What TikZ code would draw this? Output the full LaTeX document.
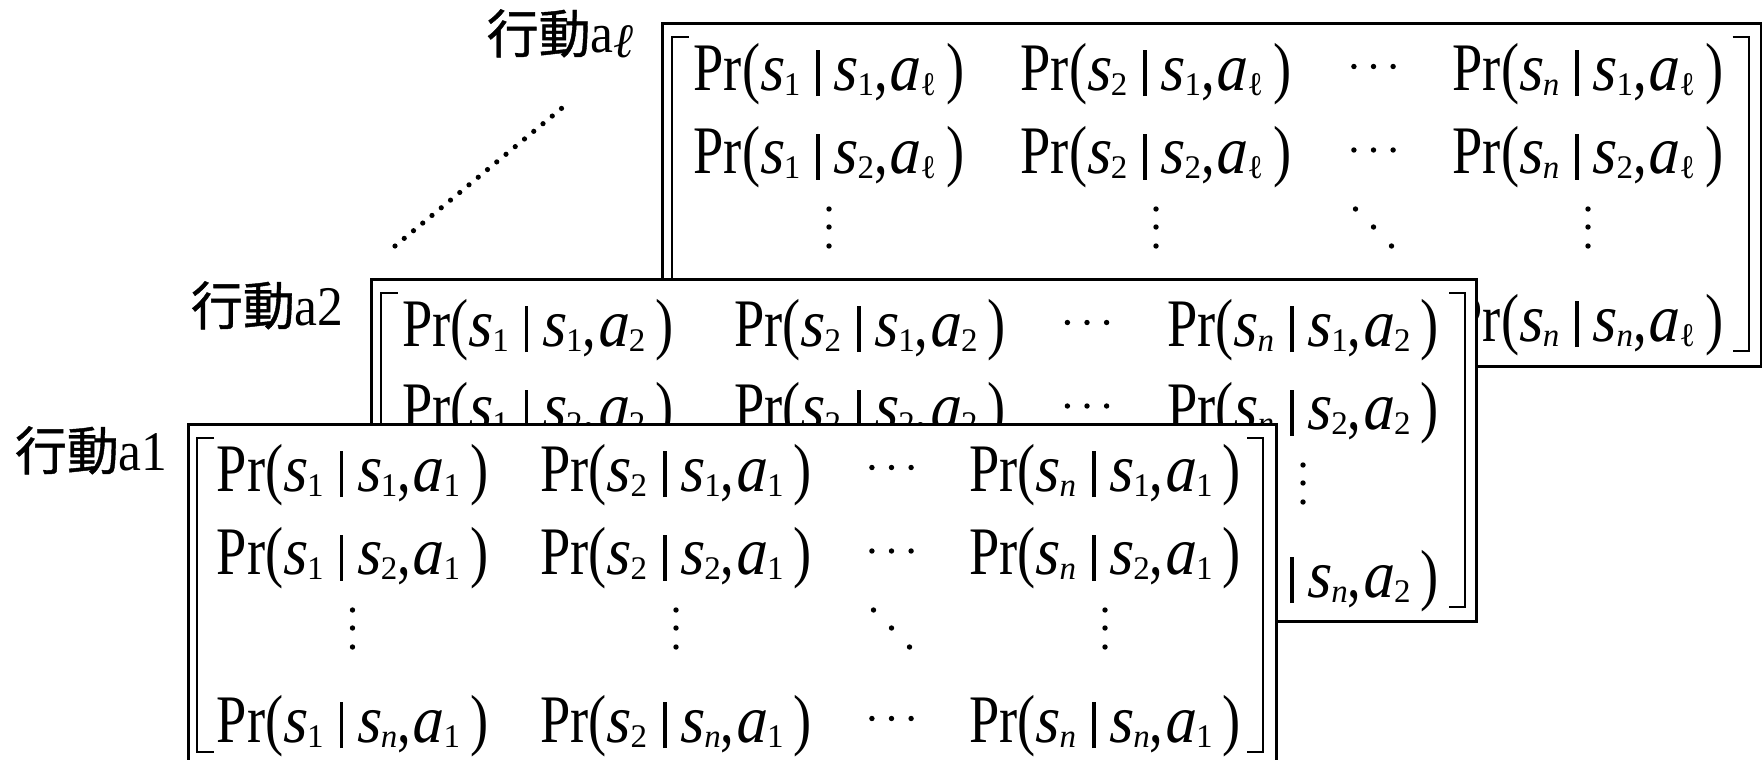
\documentclass[tikz,border=0pt]{standalone}
\usepackage{fontspec}
\setmainfont{Liberation Serif}
\newfontfamily\eqrm{Liberation Serif}[FakeStretch=0.8]
\newfontfamily\eqit{Liberation Serif Italic}[FakeStretch=0.9,FakeSlant=0.05]
\newfontfamily\eqsub{Liberation Serif}
\newfontfamily\eqsubit{Liberation Serif Italic}
\newfontfamily\labfont{Liberation Serif}[FakeStretch=0.92]
\newfontfamily\labit{Liberation Serif Italic}
\newfontfamily\jpfont{Noto Sans CJK JP}[FakeBold=0.8]

\newcommand{\Ss}{{\eqit s}}
\newcommand{\Aa}{{\eqit a}}
\newcommand{\sbx}[1]{\raisebox{-2.6pt}{\eqsub\fontsize{16.5}{16.5}\selectfont #1}}
\newcommand{\barrule}{\rule[-3pt]{1.7pt}{23pt}}
\newcommand{\pr}[3]{{\eqrm\fontsize{34}{34}\selectfont Pr(\Ss\sbx{#1}\hspace{8pt}\barrule\hspace{7pt}\Ss\sbx{#2},\hspace{1pt}\Aa\sbx{#3}\hspace{5pt})}}
\newcommand{\nn}{\eqsubit n}

\tikzset{
  boxst/.style={draw, fill=white, line width=1.5pt, inner sep=0pt, anchor=north west},
  brk/.style={line width=1pt},
  ent/.style={inner sep=0pt, anchor=base},
  lab/.style={inner sep=0pt, anchor=base east},
  dotline/.style={line width=2.6pt, line cap=round, dash pattern=on 0pt off 6pt},
}

% #1 prefix, #2 bx, #3 by, #4 width, #5 c1, #6 c2, #7 c3, #8 c4, #9 action
\newcommand{\actbox}[9]{%
\begin{scope}[shift={(#2,#3)}]
  \node[boxst, minimum width=#4*0.5pt, minimum height=\bh*0.5pt] (#1box) at (0,0) {};
  \draw[brk] (27.5,15) -| (10.5,329) -- (27.5,329);
  \draw[brk] (\rbx-16,15) -| (\rbx,329) -- (\rbx-16,329);
  \node[ent] (#1r1c1) at (#5,68.5) {\pr{1}{1}{#9}};
  \node[ent] (#1r1c2) at (#6,68.5) {\pr{2}{1}{#9}};
  \node[ent] (#1r1c4) at (#8,68.5) {\pr{\nn}{1}{#9}};
  \node[ent] (#1r2c1) at (#5,152) {\pr{1}{2}{#9}};
  \node[ent] (#1r2c2) at (#6,152) {\pr{2}{2}{#9}};
  \node[ent] (#1r2c4) at (#8,152) {\pr{\nn}{2}{#9}};
  \node[ent] (#1r4c1) at (#5,319.5) {\pr{1}{\nn}{#9}};
  \node[ent] (#1r4c2) at (#6,319.5) {\pr{2}{\nn}{#9}};
  \node[ent] (#1r4c4) at (#8,319.5) {\pr{\nn}{\nn}{#9}};
  \foreach \yy in {45,128.5,296}{\foreach \dx in {-19.6,0,19.6}{\fill (#7+\dx,\yy) circle[radius=1.35pt];}}
  \foreach \xx in {#5,#6,#8}{\foreach \yy in {187.5,205.5,224.5}{\fill (\xx,\yy) circle[radius=1.35pt];}}
  \fill (#7-18,187.5) circle[radius=1.35pt];
  \fill (#7,205.5) circle[radius=1.35pt];
  \fill (#7+18,224.5) circle[radius=1.35pt];
\end{scope}}

\begin{document}
\begin{tikzpicture}[x=0.5pt,y=-0.5pt]
\useasboundingbox (0,0) rectangle (1762,760);
\clip (0,0) rectangle (1762,760);

\def\rbx{1087.5}\def\bh{343}
\actbox{L}{661}{21.5}{1099}{168}{495}{712.5}{927}{ℓ}
\def\rbx{1095}\def\bh{342.5}
\actbox{B}{370}{277.5}{1105}{167.7}{500}{717}{933}{2}
\def\rbx{1076.5}\def\bh{350}
\actbox{A}{186.5}{422.5}{1088.5}{166}{489.5}{705}{918.5}{1}

\node[lab] (labL) at (634,53) {{\jpfont\fontsize{26}{26}\selectfont 行動}{\labfont\fontsize{28}{28}\selectfont a}{\labit\fontsize{24}{24}\selectfont\raisebox{-2pt}{ℓ}}};
\node[lab] (labB) at (344,325) {{\jpfont\fontsize{26}{26}\selectfont 行動}{\labfont\fontsize{28}{28}\selectfont a2}};
\node[lab] (labA) at (168,470) {{\jpfont\fontsize{26}{26}\selectfont 行動}{\labfont\fontsize{28}{28}\selectfont a1}};

\coordinate (d1) at (395,246);
\coordinate (d2) at (562,108);
\draw[dotline] (d1) -- (d2);
\end{tikzpicture}
\end{document}
